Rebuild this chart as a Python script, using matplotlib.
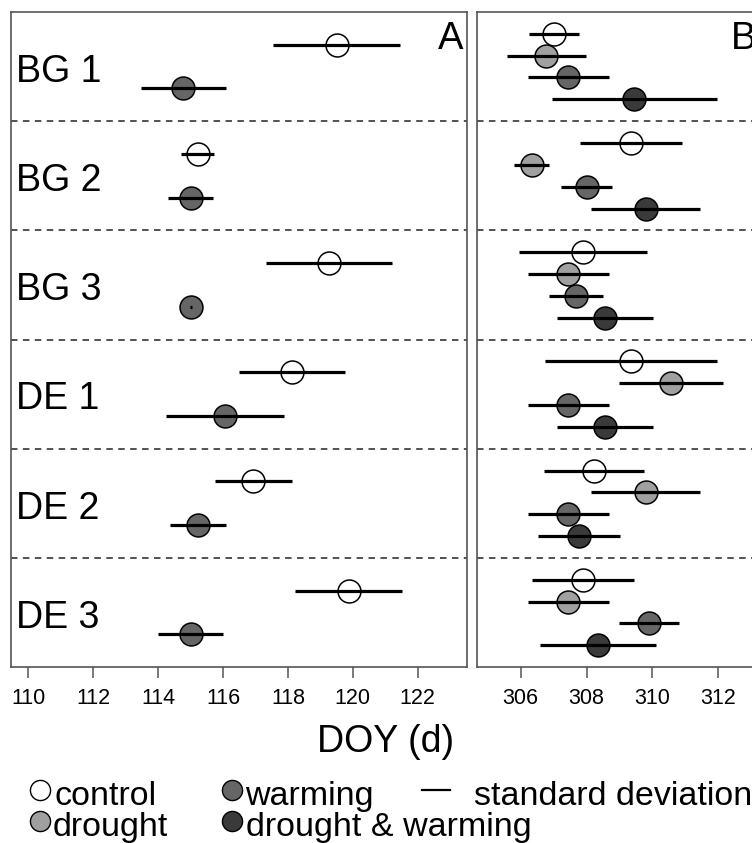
import matplotlib
matplotlib.use("Agg")
import matplotlib.pyplot as plt
from matplotlib.lines import Line2D

plt.rcParams['font.family'] = ['Liberation Sans', 'DejaVu Sans']

# sites / plots, top to bottom
groups = ["BG 1", "BG 2", "BG 3", "DE 1", "DE 2", "DE 3"]

# panel A (spring, DOY)
a_control_mean = [119.50, 115.22, 119.28, 118.12, 116.93, 119.88]
a_control_sd = [1.95, 0.50, 1.94, 1.64, 1.19, 1.65]
a_warming_mean = [114.78, 115.00, 115.00, 116.06, 115.23, 115.00]
a_warming_sd = [1.30, 0.70, 0.03, 1.83, 0.86, 0.99]

# panel B (autumn, DOY)
b_control_mean = [307.01, 309.34, 307.90, 309.34, 308.22, 307.90]
b_control_sd = [0.77, 1.55, 1.94, 2.61, 1.52, 1.55]
b_drought_mean = [306.78, 306.33, 307.45, 310.57, 309.80, 307.45]
b_drought_sd = [1.20, 0.52, 1.24, 1.57, 1.66, 1.24]
b_warming_mean = [307.45, 308.00, 307.68, 307.45, 307.45, 309.90]
b_warming_sd = [1.24, 0.78, 0.81, 1.24, 1.24, 0.91]
b_dw_mean = [309.45, 309.79, 308.56, 308.56, 307.78, 308.34]
b_dw_sd = [2.50, 1.66, 1.46, 1.46, 1.25, 1.76]

c_control = "white"
c_drought = "#a0a0a0"
c_warming = "#666666"
c_dw = "#3a3a3a"
spine_col = "#555555"

W, H = 752, 843
fig = plt.figure(figsize=(W / 100, H / 100), dpi=100)

# panel B runs past the right edge of the picture, like the reference
axA = fig.add_axes([11 / W, 1 - 667 / H, 456 / W, 655 / H])
axB = fig.add_axes([477 / W, 1 - 667 / H, 283 / W, 655 / H])


def draw_series(ax, means, sds, offset, color):
    ys = [i + offset for i in range(len(means))]
    ax.plot(means, ys, "o", ms=16.5, mfc=color, mec="black", mew=1.1, zorder=3)
    lo = [m - s for m, s in zip(means, sds)]
    hi = [m + s for m, s in zip(means, sds)]
    ax.hlines(ys, lo, hi, color="black", lw=2.3, zorder=4)


draw_series(axA, a_control_mean, a_control_sd, 0.3, c_control)
draw_series(axA, a_warming_mean, a_warming_sd, 0.7, c_warming)

draw_series(axB, b_control_mean, b_control_sd, 0.2, c_control)
draw_series(axB, b_drought_mean, b_drought_sd, 0.4, c_drought)
draw_series(axB, b_warming_mean, b_warming_sd, 0.6, c_warming)
draw_series(axB, b_dw_mean, b_dw_sd, 0.8, c_dw)

axA.set_xlim(109.467, 123.52)
axB.set_xlim(304.673, 304.673 + 283 / 32.93)
axA.set_xticks(range(110, 123, 2))
axB.set_xticks(range(306, 314, 2))

for ax in (axA, axB):
    ax.set_ylim(len(groups), 0)
    ax.set_yticks([])
    for k in range(1, len(groups)):
        ax.axhline(k, color="#444444", lw=1.3, ls=(0, (3.6, 3.0)), zorder=1)
    for sp in ax.spines.values():
        sp.set_color(spine_col)
        sp.set_linewidth(1.2)
    ax.tick_params(axis="x", direction="out", length=8, width=1.1, color=spine_col,
                   labelsize=15.5, pad=7)

for i, g in enumerate(groups):
    axA.text(0.011, i + 0.64, g, transform=axA.get_yaxis_transform(),
             fontsize=27, va="baseline", ha="left")

axA.text(1 - 4 / 456, 1 - 9 / 655, "A", transform=axA.transAxes,
         fontsize=27.5, ha="right", va="top")
axB.text(1 - 4 / 283, 1 - 9 / 655, "B", transform=axB.transAxes,
         fontsize=27.5, ha="right", va="top")

fig.text(386 / W, 1 - 752 / H, "DOY (d)", fontsize=27, ha="center", va="baseline")

# legend, drawn by hand in figure pixels
entries = [
    (40, 790, 54, 805, c_control, "control"),
    (40, 821, 53, 836, c_drought, "drought"),
    (232, 790, 245, 805, c_warming, "warming"),
    (232, 821, 246, 836, c_dw, "drought & warming"),
]
for mx, my, tx, ty, col, lab in entries:
    fig.add_artist(Line2D([mx / W], [1 - my / H], transform=fig.transFigure, marker="o",
                          ms=14.5, mfc=col, mec="black", mew=1.0, ls="none"))
    fig.text(tx / W, 1 - ty / H, lab, fontsize=24.5, va="baseline", ha="left")

fig.add_artist(Line2D([422 / W, 450 / W], [1 - 790 / H, 1 - 790 / H], transform=fig.transFigure,
                      color="black", lw=1.6))
fig.text(474 / W, 1 - 805 / H, "standard deviation", fontsize=24.5,
         va="baseline", ha="left")

fig.savefig("out.png", dpi=100)
